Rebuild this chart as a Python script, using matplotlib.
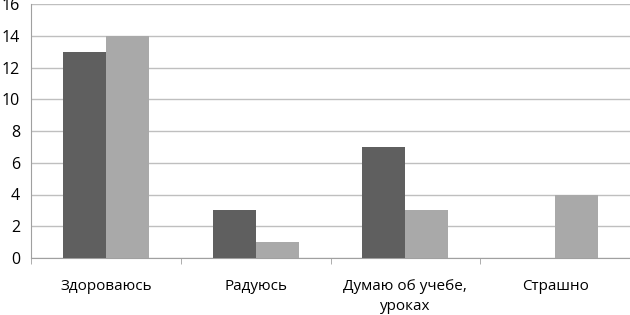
import matplotlib
matplotlib.use("Agg")
import matplotlib.pyplot as plt
import numpy as np

categories = ["Здороваюсь", "Радуюсь", "Думаю об учебе,\nуроках", "Страшно"]
series1 = [13, 3, 7, 0]
series2 = [14, 1, 3, 4]
yticks = [0, 2, 4, 6, 8, 10, 12, 14, 16]

plt.rcParams['font.family'] = ['Open Sans', 'DejaVu Sans']

fig = plt.figure(figsize=(6.3, 3.15), dpi=100)
ax = fig.add_axes([31/630, 1-258/315, 1-31/630, 254/315])

x = np.arange(len(categories))
w = 0.287
ax.bar(x - w/2, series1, width=w, color="#5f5f5f", zorder=3)
ax.bar(x + w/2, series2, width=w, color="#a9a9a9", zorder=3)

ax.set_xlim(-0.5, len(categories) - 0.5)
ax.set_ylim(0, 16)
ax.set_yticks(yticks)
ax.set_yticklabels([str(v) for v in yticks], fontsize=11.5)
ax.yaxis.grid(True, color="#bfbfbf", linewidth=1, zorder=0)
ax.tick_params(axis='y', length=0, pad=8)

ax.set_xticks(x)
ax.set_xticklabels(categories, fontsize=11, linespacing=1.45)
ax.tick_params(axis='x', length=0, pad=15)
ax.set_xticks(np.arange(len(categories) + 1) - 0.5, minor=True)
ax.tick_params(axis='x', which='minor', length=4, color="#a0a0a0")

for s in ['top', 'right']:
    ax.spines[s].set_visible(False)
ax.spines['left'].set_color("#a0a0a0")
ax.spines['bottom'].set_color("#a0a0a0")

fig.savefig("out.png", dpi=100)
